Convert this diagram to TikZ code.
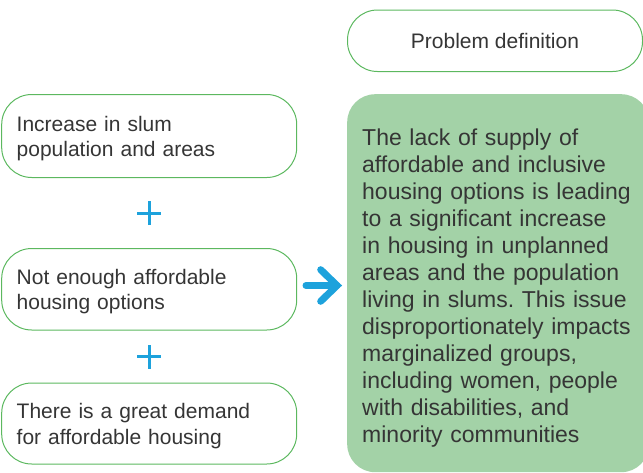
\documentclass[tikz,border=0pt]{standalone}
\usepackage{fontspec}
\setmainfont{Liberation Sans}
\frenchspacing
\definecolor{boxgreen}{HTML}{5CB85F}
\definecolor{fillgreen}{HTML}{A3D2A7}
\definecolor{plusblue}{HTML}{1DA2DC}
\definecolor{txt}{HTML}{353535}
\begin{document}
\begin{tikzpicture}[x=1pt,y=-1pt,
  pill/.style={draw=boxgreen, line width=1pt, rounded corners=30pt, text=txt,
    anchor=north west, inner xsep=15pt, inner ysep=0pt, align=left,
    text width=265pt, font=\fontsize{21}{25.5}\selectfont, text height=20pt},
  headpill/.style={draw=boxgreen, line width=1pt, rounded corners=30pt, text=txt,
    anchor=north west, inner sep=0pt, minimum width=295pt, minimum height=61.5pt,
    font=\fontsize{21}{25.5}\selectfont},
  greenbox/.style={fill=fillgreen, draw=none, rounded corners=28pt, text=txt,
    anchor=north west, inner xsep=15pt, inner ysep=0pt, align=left,
    text width=272pt, minimum height=378pt, font=\fontsize{23}{27}\selectfont,
    text height=25.8pt},
  plusline/.style={draw=plusblue, line width=3pt},
  arrowline/.style={draw=plusblue, line width=7pt, line cap=round, line join=miter}]
\useasboundingbox (0,0) rectangle (643,472);
\clip (0,0) rectangle (643,472);

\node[headpill] (head) at (347,9.5) {Problem definition};
\node[greenbox] (def) at (347,94) {The lack of supply of\\
affordable and inclusive\\
housing options is leading\\
to a significant increase\\
in housing in unplanned\\
areas and the population\\
living in slums. This issue\\
disproportionately impacts\\
marginalized groups,\\
including women, people\\
with disabilities, and\\
minority communities};

\node[pill, minimum height=83pt] (b1) at (1.2,94) {Increase in slum\\population and areas};
\node[pill, minimum height=81.5pt] (b2) at (1.2,248) {Not enough affordable\\housing options};
\node[pill, minimum height=81pt] (b3) at (1.2,382.5) {There is a great demand\\for affordable housing};

\path (b1.south) -- (b2.north) coordinate[pos=0.5] (plusA);
\path (b2.south) -- (b3.north) coordinate[pos=0.5] (plusB);
\draw[plusline] ([xshift=-12pt]plusA) -- ([xshift=12pt]plusA);
\draw[plusline] ([yshift=-12pt]plusA) -- ([yshift=12pt]plusA);
\draw[plusline] ([xshift=-12pt]plusB) -- ([xshift=12pt]plusB);
\draw[plusline] ([yshift=-12pt]plusB) -- ([yshift=12pt]plusB);

\coordinate (arrS) at (306,285.5);
\coordinate (arrT) at (337,285.5);
\coordinate (arrU) at (320.7,269.7);
\coordinate (arrD) at (320.7,301.3);
\draw[arrowline] (arrS) -- (arrT);
\draw[arrowline] (arrU) -- (arrT) -- (arrD);
\end{tikzpicture}
\end{document}
